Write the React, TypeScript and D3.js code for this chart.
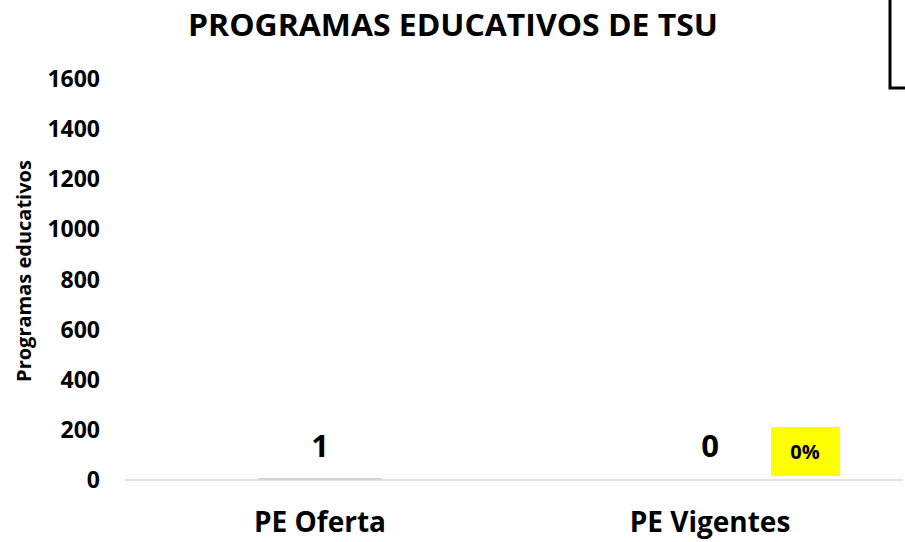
import React, { useRef, useEffect } from 'react';
import * as d3 from 'd3';

const categories = ['PE Oferta', 'PE Vigentes'];
const values = [1, 0];
const yTicks = [0, 200, 400, 600, 800, 1000, 1200, 1400, 1600];
const percentLabel = '0%';

export default function App() {
  const svgRef = useRef<SVGSVGElement>(null);

  useEffect(() => {
    const svg = d3.select(svgRef.current);
    const width = 905;
    const height = 542;
    const font = "'Open Sans', sans-serif";
    svg.selectAll('*').remove();

    svg.append('rect').attr('width', width).attr('height', height).attr('fill', '#fff');

    const x = d3.scaleBand()
      .domain(categories)
      .range([125, 905])
      .paddingInner(0.685)
      .paddingOuter(0.3425);

    const y = d3.scaleLinear().domain([0, 1600]).range([480, 79]);

    // title
    svg.append('text')
      .attr('x', 453).attr('y', 36)
      .attr('text-anchor', 'middle')
      .attr('font-family', font).attr('font-weight', 700).attr('font-size', 31)
      .attr('textLength', 530).attr('lengthAdjust', 'spacingAndGlyphs')
      .text('PROGRAMAS EDUCATIVOS DE TSU');

    // y tick labels
    svg.append('g').selectAll('text')
      .data(yTicks)
      .join('text')
      .attr('x', 100)
      .attr('y', d => y(d) + 8)
      .attr('text-anchor', 'end')
      .attr('font-family', font).attr('font-weight', 700).attr('font-size', 23)
      .text(d => d);

    // y axis title
    svg.append('text')
      .attr('transform', 'translate(31,271) rotate(-90)')
      .attr('text-anchor', 'middle')
      .attr('font-family', font).attr('font-weight', 700).attr('font-size', 20)
      .text('Programas educativos');

    // bars
    svg.append('g').selectAll('rect')
      .data(values)
      .join('rect')
      .attr('x', (d, i) => x(categories[i])!)
      .attr('width', x.bandwidth())
      .attr('y', d => y(d) - 1.5)
      .attr('height', d => (d > 0 ? y(0) - y(d) + 1.5 : 0))
      .attr('fill', '#b4c2dc');

    // baseline
    svg.append('line')
      .attr('x1', 125).attr('x2', 903)
      .attr('y1', y(0)).attr('y2', y(0))
      .attr('stroke', '#d9d9d9').attr('stroke-width', 1.5);

    // value labels
    svg.append('g').selectAll('text')
      .data(values)
      .join('text')
      .attr('x', (d, i) => x(categories[i])! + x.bandwidth() / 2)
      .attr('y', 457)
      .attr('text-anchor', 'middle')
      .attr('font-family', font).attr('font-weight', 700).attr('font-size', 31)
      .text(d => d);

    // category labels
    svg.append('g').selectAll('text')
      .data(categories)
      .join('text')
      .attr('x', d => x(d)! + x.bandwidth() / 2)
      .attr('y', 532)
      .attr('text-anchor', 'middle')
      .attr('font-family', font).attr('font-weight', 700).attr('font-size', 28)
      .text(d => d);

    // percentage box
    svg.append('rect')
      .attr('x', 771).attr('y', 427).attr('width', 69).attr('height', 49)
      .attr('fill', '#ffff00');
    svg.append('text')
      .attr('x', 805).attr('y', 459)
      .attr('text-anchor', 'middle')
      .attr('font-family', font).attr('font-weight', 700).attr('font-size', 20)
      .text(percentLabel);

    // partial box top right
    svg.append('path')
      .attr('d', 'M890,0 V88 H906')
      .attr('fill', 'none')
      .attr('stroke', '#000')
      .attr('stroke-width', 3);
  }, []);

  return (
    <svg
      ref={svgRef}
      width={905}
      height={542}
      style={{ position: 'absolute', left: 0, top: 0, display: 'block' }}
    />
  );
}
